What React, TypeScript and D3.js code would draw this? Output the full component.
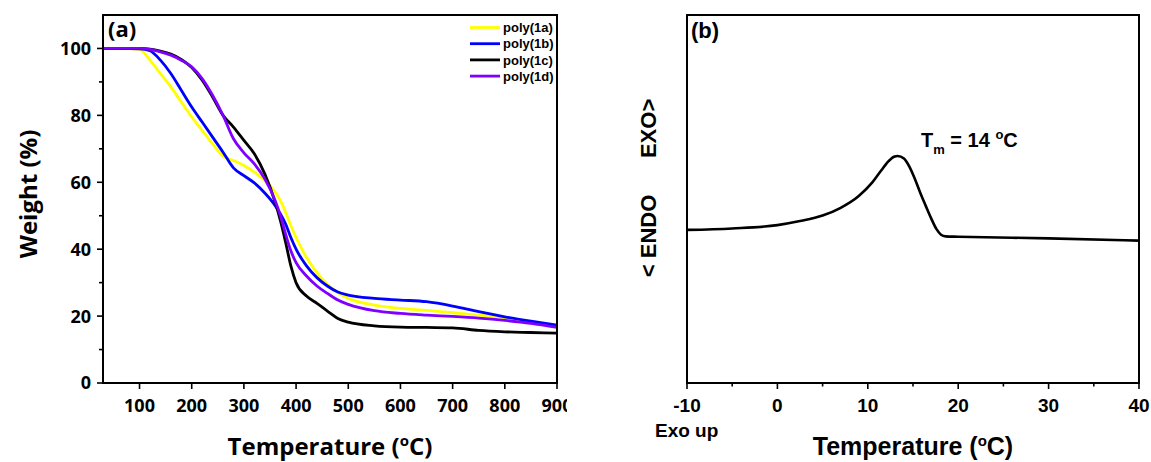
import React from "react";
import * as d3 from "d3";

// ---- TGA data (panel a): temperature grid in °C, weight remaining in % ----
const tgaTemps = [30, 60, 100, 120, 140, 160, 180, 200, 220, 240, 260, 280, 300, 320, 340, 360, 370, 380, 390, 400, 420, 440, 460, 480, 500, 550, 600, 650, 700, 750, 800, 850, 900];
const poly1a = [100, 100, 99.7, 96.5, 92.5, 88.5, 84, 79.5, 75.5, 71.5, 67.8, 66.5, 65, 63, 60.5, 57, 54.5, 51, 47, 43.5, 37.5, 33, 29.5, 27, 25.3, 23.3, 22.3, 21.7, 21, 20.3, 19.5, 18.3, 16.8];
const poly1b = [100, 100, 99.9, 99.3, 96.5, 92.5, 87.5, 82.5, 78, 73.5, 69, 64.3, 62, 59.8, 56.8, 53, 50.5, 47.5, 43.5, 40, 35, 31.5, 29, 27.2, 26.3, 25.3, 24.8, 24.3, 23, 21.3, 19.8, 18.5, 17.3];
const poly1c = [100, 100, 100, 99.8, 99.2, 98.3, 96.7, 94.3, 90.5, 85.5, 80, 76.5, 72.5, 68.5, 62.5, 54, 48.5, 42, 35, 30, 26, 23.8, 21.5, 19.3, 18.2, 17.1, 16.7, 16.6, 16.5, 15.7, 15.3, 15.1, 14.9];
const poly1d = [100, 100, 100, 99.7, 99, 98, 96.5, 94.5, 91, 86, 80, 73, 68.8, 65.5, 61, 54.5, 50, 44.5, 39.5, 36, 32, 29, 26.8, 24.8, 23.5, 21.6, 20.8, 20.3, 19.9, 19.4, 18.7, 17.8, 16.6];
const seriesNames = ["poly(1a)", "poly(1b)", "poly(1c)", "poly(1d)"];
const seriesColors = ["#ffff00", "#0000ff", "#000000", "#8000ff"];
const tgaXTicks = [100, 200, 300, 400, 500, 600, 700, 800, 900];
const tgaYTicks = [0, 20, 40, 60, 80, 100];
const tgaYMinor = [10, 30, 50, 70, 90];

// ---- DSC data (panel b): temperature in °C, heat flow in arbitrary units ----
const dscTemps = [-10, -5, 0, 2.5, 5, 7, 9, 10.5, 11.5, 12.3, 12.9, 13.3, 14, 14.6, 15.2, 15.8, 16.4, 17, 17.6, 18.1, 18.6, 20, 30, 40];
const dscFlow = [4.16, 4.2, 4.29, 4.4, 4.55, 4.76, 5.08, 5.45, 5.78, 6.03, 6.15, 6.17, 6.1, 5.88, 5.55, 5.17, 4.82, 4.48, 4.18, 4.03, 3.985, 3.975, 3.93, 3.87];
const dscXTicks = [-10, 0, 10, 20, 30, 40];
const dscXMinor = [-5, 5, 15, 25, 35];
const meltingPoint = 14;

const W = 1151;
const H = 462;
const A = { left: 103, right: 557, top: 15, bottom: 383 };
const B = { left: 687, right: 1139, top: 15, bottom: 383 };

const FONT_A = "'Open Sans', 'Liberation Sans', sans-serif";
const FONT_B = "'Liberation Sans', Arial, sans-serif";

export default function App() {
  const xA = d3.scaleLinear().domain([30, 900]).range([A.left, A.right]);
  const yA = d3.scaleLinear().domain([0, 110]).range([A.bottom, A.top]);
  const xB = d3.scaleLinear().domain([-10, 40]).range([B.left, B.right]);
  const yB = d3.scaleLinear().domain([0, 10]).range([B.bottom, B.top]);

  const tgaLine = d3
    .line<number>()
    .x((_, i) => xA(tgaTemps[i]))
    .y((d) => yA(d))
    .curve(d3.curveMonotoneX);

  const dscLine = d3
    .line<number>()
    .x((_, i) => xB(dscTemps[i]))
    .y((d) => yB(d))
    .curve(d3.curveMonotoneX);

  const tgaData = [poly1a, poly1b, poly1c, poly1d];

  return (
    <div style={{ position: "absolute", left: 0, top: 0 }}>
      <svg width={W} height={H} viewBox={`0 0 ${W} ${H}`} style={{ display: "block", background: "#fff" }}>
        <defs>
          {/* panel (a) is cropped just right of its frame */}
          <clipPath id="panelA">
            <rect x={0} y={0} width={567} height={H} />
          </clipPath>
        </defs>

        {/* ---------- panel (a): TGA ---------- */}
        <g clipPath="url(#panelA)">
          {tgaData.map((vals, i) => (
            <path key={seriesNames[i]} d={tgaLine(vals) || ""} fill="none" stroke={seriesColors[i]} strokeWidth={2.8} strokeLinejoin="round" />
          ))}
          <rect x={A.left} y={A.top} width={A.right - A.left} height={A.bottom - A.top} fill="none" stroke="#000" strokeWidth={2} />
          {tgaXTicks.map((t) => (
            <g key={`ax${t}`}>
              <line x1={xA(t)} x2={xA(t)} y1={A.bottom} y2={A.bottom + 6} stroke="#000" strokeWidth={1.6} />
              <text x={xA(t)} y={412} textAnchor="middle" fontFamily={FONT_A} fontWeight={700} fontSize={18}>
                {t}
              </text>
            </g>
          ))}
          {tgaYTicks.map((t) => (
            <g key={`ay${t}`}>
              <line x1={A.left - 6} x2={A.left} y1={yA(t)} y2={yA(t)} stroke="#000" strokeWidth={1.6} />
              <text x={91} y={yA(t)} dy="0.36em" textAnchor="end" fontFamily={FONT_A} fontWeight={700} fontSize={18}>
                {t}
              </text>
            </g>
          ))}
          {tgaYMinor.map((t) => (
            <line key={`aym${t}`} x1={A.left - 4} x2={A.left} y1={yA(t)} y2={yA(t)} stroke="#000" strokeWidth={1.6} />
          ))}
          <text x={108} y={37} fontFamily={FONT_A} fontWeight={700} fontSize={22}>
            (a)
          </text>
          <text transform={`translate(37,${194}) rotate(-90)`} textAnchor="middle" fontFamily={FONT_A} fontWeight={700} fontSize={24}>
            Weight (%)
          </text>
          <text x={(A.left + A.right) / 2} y={455} textAnchor="middle" fontFamily={FONT_A} fontWeight={700} fontSize={24}>
            Temperature (<tspan fontSize={15} dy={-9}>o</tspan>
            <tspan dy={9}>C)</tspan>
          </text>
          {/* legend */}
          {seriesNames.map((name, i) => {
            const y = 27.5 + i * 16.2;
            return (
              <g key={`lg${name}`}>
                <line x1={470} x2={500} y1={y} y2={y} stroke={seriesColors[i]} strokeWidth={2.8} />
                <text x={503} y={y} dy="0.36em" fontFamily={FONT_B} fontWeight={700} fontSize={13}>
                  {name}
                </text>
              </g>
            );
          })}
        </g>

        {/* ---------- panel (b): DSC ---------- */}
        <g>
          <path d={dscLine(dscFlow) || ""} fill="none" stroke="#000" strokeWidth={2.6} strokeLinejoin="round" />
          <rect x={B.left} y={B.top} width={B.right - B.left} height={B.bottom - B.top} fill="none" stroke="#000" strokeWidth={2} />
          {dscXTicks.map((t) => (
            <g key={`bx${t}`}>
              <line x1={xB(t)} x2={xB(t)} y1={B.bottom} y2={B.bottom + 6} stroke="#000" strokeWidth={1.6} />
              <text x={xB(t)} y={412} textAnchor="middle" fontFamily={FONT_B} fontWeight={700} fontSize={19}>
                {t}
              </text>
            </g>
          ))}
          {dscXMinor.map((t) => (
            <line key={`bxm${t}`} x1={xB(t)} x2={xB(t)} y1={B.bottom} y2={B.bottom + 3.5} stroke="#000" strokeWidth={1.6} />
          ))}
          <text x={691} y={38} fontFamily={FONT_B} fontWeight={700} fontSize={22}>
            (b)
          </text>
          <text x={655} y={437} fontFamily={FONT_B} fontWeight={700} fontSize={19}>
            Exo up
          </text>
          <text x={(B.left + B.right) / 2} y={455} textAnchor="middle" fontFamily={FONT_B} fontWeight={700} fontSize={25}>
            Temperature (<tspan fontSize={15} dy={-9}>o</tspan>
            <tspan dy={9}>C)</tspan>
          </text>
          <text
            transform={`translate(656,${188}) rotate(-90)`}
            textAnchor="middle"
            fontFamily={FONT_B}
            fontWeight={700}
            fontSize={22}
            style={{ whiteSpace: "pre" }}
          >
            {"< ENDO      EXO>"}
          </text>
          <text x={921} y={147} fontFamily={FONT_B} fontWeight={700} fontSize={20}>
            T<tspan fontSize={13} dy={7}>m</tspan>
            <tspan dy={-7}>{` = ${meltingPoint} `}</tspan>
            <tspan fontSize={13} dy={-8}>o</tspan>
            <tspan dy={8}>C</tspan>
          </text>
        </g>
      </svg>
    </div>
  );
}
